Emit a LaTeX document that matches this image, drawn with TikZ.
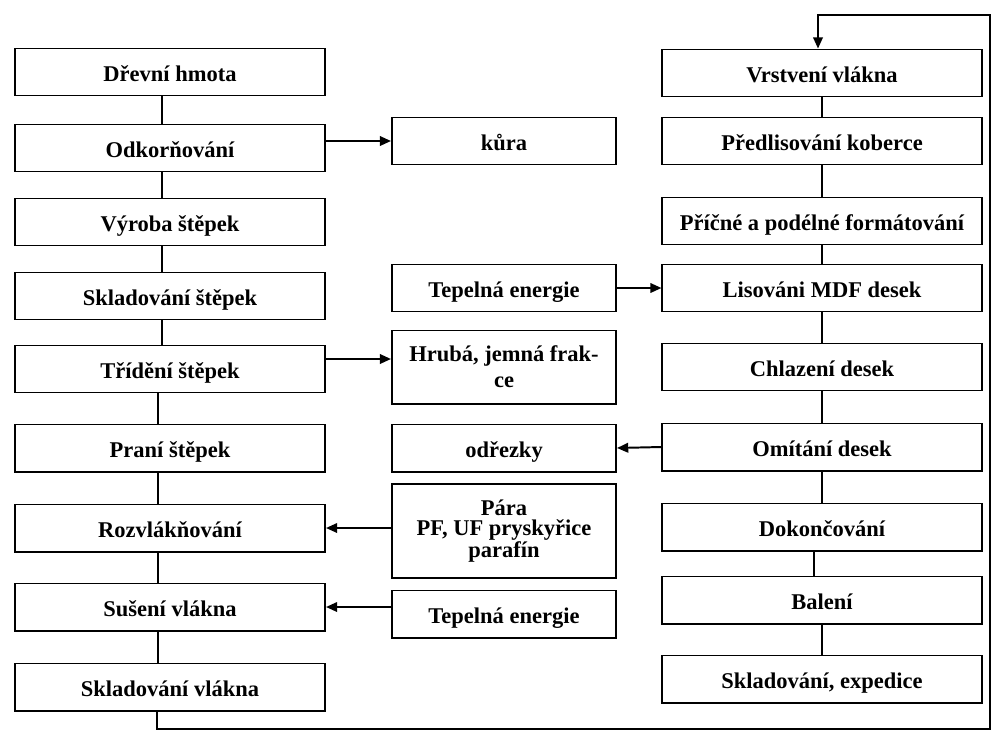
\documentclass[tikz,border=0pt]{standalone}
\usepackage{fontspec}
\setmainfont{Liberation Serif}
\usetikzlibrary{arrows.meta}
\begin{document}
\begin{tikzpicture}[x=0.025cm,y=-0.025cm]
\tikzset{
  krok/.style={draw,line width=1.4pt,minimum height=1.175cm,inner sep=1pt,
    align=center,font=\fontsize{16}{18.5}\selectfont\bfseries},
  radek/.style={text height=17pt,text depth=3pt},
  levy/.style={krok,radek,minimum width=7.75cm},
  stred/.style={krok,minimum width=5.6cm},
  pravy/.style={krok,radek,minimum width=7.975cm},
  spoj/.style={-,line width=1.4pt},
  sipka/.style={-{Triangle[length=2.8mm,width=2.4mm]},line width=1.4pt}
}
\useasboundingbox (0,0) rectangle (992,738);

% levý sloupec (výroba vlákna)
\node[levy] (hmota)   at (170,72)  {Dřevní hmota};
\node[levy] (odkor)   at (170,148) {Odkorňování};
\node[levy] (vyroba)  at (170,222) {Výroba štěpek};
\node[levy] (sklst)   at (170,296) {Skladování štěpek};
\node[levy] (trideni) at (170,369) {Třídění štěpek};
\node[levy] (prani)   at (170,448) {Praní štěpek};
\node[levy] (rozvl)   at (170,528) {Rozvlákňování};
\node[levy] (suseni)  at (170,607) {Sušení vlákna};
\node[levy] (sklvl)   at (170,687) {Skladování vlákna};

% prostřední sloupec (vstupy a výstupy)
\node[stred,radek] (kura)    at (504,141) {kůra};
\node[stred,radek] (tepla)   at (504,288) {Tepelná energie};
\node[stred,minimum height=1.825cm] (frakce) at (504,367) {Hrubá, jemná frak-\\ce};
\node[stred,radek] (odrezky) at (504,448) {odřezky};
\node[stred,minimum height=2.35cm,font=\fontsize{16}{14.5}\selectfont\bfseries] (para)
  at (504,531) {Pára\\PF, UF pryskyřice\\parafín};
\node[stred,radek] (teplb)   at (504,614) {Tepelná energie};

% pravý sloupec (výroba desek)
\node[pravy] (vrstveni) at (822,73)  {Vrstvení vlákna};
\node[pravy] (predlis)  at (822,141) {Předlisování koberce};
\node[pravy] (format)   at (822,221) {Příčné a podélné formátování};
\node[pravy] (lisovani) at (822,288) {Lisováni MDF desek};
\node[pravy] (chlazeni) at (822,367) {Chlazení desek};
\node[pravy] (omitani)  at (822,447) {Omítání desek};
\node[pravy] (dokonc)   at (822,527) {Dokončování};
\node[pravy] (baleni)   at (822,600) {Balení};
\node[pravy] (expedice) at (822,679) {Skladování, expedice};

% spoje v levém sloupci
\draw[spoj] ([xshift=-2mm]hmota.south)   -- ([xshift=-2mm]odkor.north);
\draw[spoj] ([xshift=-2mm]odkor.south)   -- ([xshift=-2mm]vyroba.north);
\draw[spoj] ([xshift=-2mm]vyroba.south)  -- ([xshift=-2mm]sklst.north);
\draw[spoj] ([xshift=-2mm]sklst.south)   -- ([xshift=-2mm]trideni.north);
\draw[spoj] ([xshift=-3mm]trideni.south) -- ([xshift=-3mm]prani.north);
\draw[spoj] ([xshift=-3mm]prani.south)   -- ([xshift=-3mm]rozvl.north);
\draw[spoj] ([xshift=-3mm]rozvl.south)   -- ([xshift=-3mm]suseni.north);
\draw[spoj] ([xshift=-3mm]suseni.south)  -- ([xshift=-3mm]sklvl.north);

% spoje v pravém sloupci
\draw[spoj] (vrstveni) -- (predlis);
\draw[spoj] (predlis)  -- (format);
\draw[spoj] (format)   -- (lisovani);
\draw[spoj] (lisovani) -- (chlazeni);
\draw[spoj] (chlazeni) -- (omitani);
\draw[spoj] (omitani)  -- (dokonc);
\draw[spoj] ([xshift=-2mm]dokonc.south) -- ([xshift=-2mm]baleni.north);
\draw[spoj] (baleni)   -- (expedice);

% šipky ke vstupům a výstupům
\draw[sipka] (odkor.east |- kura) -- (kura.west);
\draw[sipka] ([yshift=2.5mm]trideni.east) -- ([yshift=2.5mm]trideni.east -| frakce.west);
\draw[sipka] (tepla.east) -- (lisovani.west);
\draw[sipka] (omitani.west) -- (odrezky.east);
\draw[sipka] (para.west |- rozvl) -- (rozvl.east);
\draw[sipka] (teplb.west |- suseni) -- (suseni.east);

% zpětná smyčka ze skladu vlákna
\coordinate (rohdole)  at (990,729);
\coordinate (rohnahore) at (990,15);
\draw[sipka] ([xshift=-3.25mm]sklvl.south) |- (rohdole) -- (rohnahore) -| ([xshift=-1mm]vrstveni.north);
\end{tikzpicture}
\end{document}
